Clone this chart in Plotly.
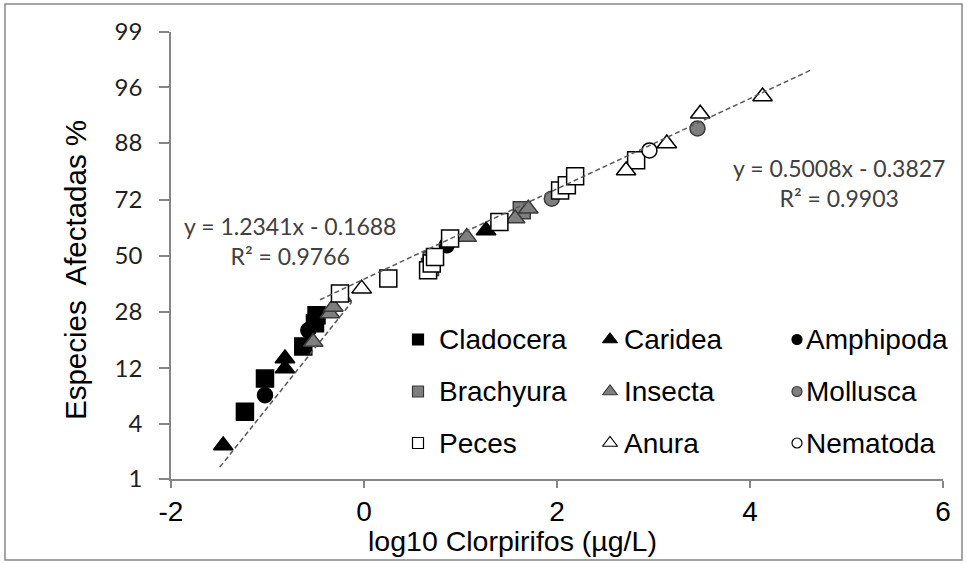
import plotly.graph_objects as go
from statistics import NormalDist

# ---------------- data ----------------
cladocera_x = [-1.234, -1.026, -0.629, -0.508, -0.492]
cladocera_y = [5.2, 10.0, 17.2, 24.0, 26.7]
caridea_x = [-1.459, -0.819, -0.819, 1.265]
caridea_y = [2.4, 12.0, 14.2, 60.3]
amphipoda_x = [-1.026, -0.577, 0.857]
amphipoda_y = [7.3, 21.8, 54.2]
brachyura_x = [0.684, 0.702, 1.635]
brachyura_y = [45.2, 48.0, 68.1]
insecta_x = [-0.526, -0.353, -0.318, -0.231, 1.065, 1.566, 1.703]
insecta_y = [18.4, 27.3, 29.6, 33.3, 57.6, 65.0, 68.7]
mollusca_x = [1.946, 3.456]
mollusca_y = [72.3, 90.7]
peces_x = [-0.249, 0.252, 0.664, 0.702, 0.736, 0.892, 1.403, 2.032, 2.102, 2.188, 2.820]
peces_y = [34.6, 40.5, 43.9, 46.7, 49.4, 57.0, 63.6, 75.1, 76.8, 79.5, 83.9]
anura_x = [-0.024, 2.716, 3.138, 3.484, 4.130]
anura_y = [36.5, 81.2, 87.8, 93.0, 95.1]
nematoda_x = [2.958]
nematoda_y = [86.3]

# trend lines (probit units) as drawn in the chart
trend_slope = [1.2575, 0.470]
trend_intercept = [-0.324, -0.246]
trend_x_from = [-1.493, -0.456]
trend_x_to = [-0.128, 4.642]
trend_text = ["y = 1.2341x - 0.1688<br>R² = 0.9766", "y = 0.5008x - 0.3827<br>R² = 0.9903"]

y_tick_pct = [1, 4, 12, 28, 50, 72, 88, 96, 99]
x_ticks = [-2, 0, 2, 4, 6]

# ---------------- helpers ----------------
nd = NormalDist()


def probit(p):
    return nd.inv_cdf(p / 100.0)


W, H = 967, 564
ML, MR, MT, MB = 171, 24, 32, 85
PW, PH = W - ML - MR, H - MT - MB


def px2paper_x(px):
    return (px - ML) / PW


def px2paper_y(py):
    return (H - MB - py) / PH


BLACK = "#000000"
GRAY = "#7f7f7f"
WHITE = "#ffffff"
EDGE = "#000000"
SANS = "Liberation Sans, Arial, sans-serif"
NARROW = "Liberation Sans Narrow, Arial Narrow, Liberation Sans, sans-serif"
CALI = "Lato, Carlito, sans-serif"

series = [
    ("Cladocera", cladocera_x, cladocera_y, "square", BLACK, 17, 11),
    ("Caridea", caridea_x, caridea_y, "triangle-up", BLACK, 17, 13),
    ("Amphipoda", amphipoda_x, amphipoda_y, "circle", BLACK, 15, 10),
    ("Brachyura", brachyura_x, brachyura_y, "square", GRAY, 17, 11),
    ("Insecta", insecta_x, insecta_y, "triangle-up", GRAY, 17, 13),
    ("Mollusca", mollusca_x, mollusca_y, "circle", GRAY, 15, 10),
    ("Peces", peces_x, peces_y, "square", WHITE, 17, 11),
    ("Anura", anura_x, anura_y, "triangle-up", WHITE, 17, 13),
    ("Nematoda", nematoda_x, nematoda_y, "circle", WHITE, 15, 10),
]

fig = go.Figure()

for name, xs, ys, sym, fill, size, _ in series:
    edge = "#3a3a3a" if fill == GRAY else EDGE
    fig.add_trace(go.Scatter(
        x=xs, y=[probit(v) for v in ys], mode="markers", name=name,
        showlegend=False,
        marker=dict(symbol=sym, size=size, color=fill,
                    line=dict(color=edge, width=1.5)),
    ))

for a, b, x0, x1 in zip(trend_slope, trend_intercept, trend_x_from, trend_x_to):
    fig.add_trace(go.Scatter(
        x=[x0, x1], y=[a * x0 + b, a * x1 + b], mode="lines", showlegend=False,
        line=dict(color="#595959", width=1.5, dash="5px,3px"),
        hoverinfo="skip",
    ))

# ---------------- custom 3x3 legend (pixel-unit overlay axes) ----------------
leg_col_marker = [418, 610, 797]
leg_col_text = [437, 622, 804]
leg_row = [339.5, 391.5, 443]
for i, (name, xs, ys, sym, fill, size, lsize) in enumerate(series):
    r, c = divmod(i, 3)
    edge = "#3a3a3a" if fill == GRAY else EDGE
    fig.add_trace(go.Scatter(
        x=[leg_col_marker[c]], y=[leg_row[r]], xaxis="x2", yaxis="y2",
        mode="markers", showlegend=False, hoverinfo="skip",
        marker=dict(symbol=sym, size=lsize, color=fill,
                    line=dict(color=edge, width=1.2)),
    ))
    fig.add_annotation(
        x=leg_col_text[c], y=leg_row[r], xref="x2", yref="y2",
        text=name, showarrow=False, xanchor="left", yanchor="middle",
        font=dict(family=SANS, size=28, color="#000000"),
    )

# equations
eq_pos = [(290, 241), (839, 183)]
for txt, (ex, ey) in zip(trend_text, eq_pos):
    fig.add_annotation(
        x=ex, y=ey, xref="x2", yref="y2", text=txt, showarrow=False,
        xanchor="center", yanchor="middle", align="center",
        font=dict(family=CALI, size=23, color="#404040"),
    )

# axis titles
fig.add_annotation(
    x=px2paper_x(512), y=px2paper_y(541), xref="paper", yref="paper",
    text="log10 Clorpirifos (µg/L)", showarrow=False,
    xanchor="center", yanchor="middle",
    font=dict(family=SANS, size=28.5, color="#000000"),
)
fig.add_annotation(
    x=px2paper_x(75), y=px2paper_y(270), xref="paper", yref="paper",
    text="Especies  Afectadas %", showarrow=False, textangle=-90,
    xanchor="center", yanchor="middle",
    font=dict(family=SANS, size=29.5, color="#000000"),
)

# outer frame
fig.add_shape(
    type="rect", xref="paper", yref="paper",
    x0=px2paper_x(5), x1=px2paper_x(962), y0=px2paper_y(560), y1=px2paper_y(4),
    line=dict(color="#878787", width=1.5), fillcolor="rgba(0,0,0,0)", layer="below",
)

AXC = "#868686"
fig.update_layout(
    width=W, height=H,
    margin=dict(l=ML, r=MR, t=MT, b=MB, autoexpand=False),
    paper_bgcolor="white", plot_bgcolor="white",
    showlegend=False,
    xaxis=dict(
        range=[-2, 6], tickvals=x_ticks, ticktext=[str(v) for v in x_ticks],
        showgrid=False, zeroline=False, showline=True, linecolor=AXC, linewidth=1.5,
        ticks="outside", ticklen=7, tickwidth=1.5, tickcolor=AXC,
        tickfont=dict(family=NARROW, size=28, color="#000000"),
        automargin=False, ticklabelstandoff=0,
    ),
    yaxis=dict(
        range=[probit(1), probit(99)], tickvals=[probit(v) for v in y_tick_pct],
        ticktext=[str(v) for v in y_tick_pct],
        showgrid=False, zeroline=False, showline=True, linecolor=AXC, linewidth=1.5,
        ticks="outside", ticklen=10, tickwidth=1.5, tickcolor=AXC,
        tickfont=dict(family=CALI, size=24, color="#1f1f1f"),
        automargin=False, ticklabelstandoff=12,
    ),
    xaxis2=dict(overlaying="x", range=[ML, W - MR], visible=False, fixedrange=True),
    yaxis2=dict(overlaying="y", range=[H - MB, MT], visible=False, fixedrange=True),
)

fig.write_html("out.html")
